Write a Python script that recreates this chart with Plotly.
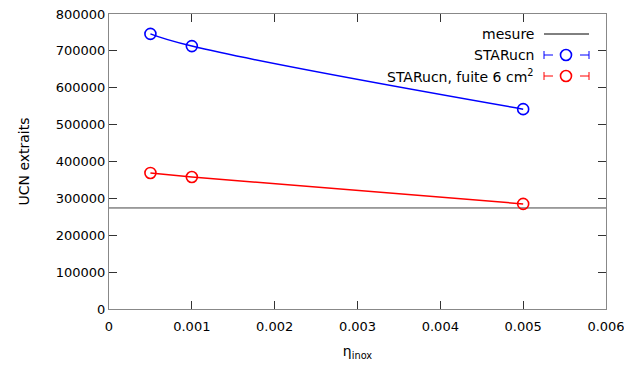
import plotly.graph_objects as go

eta = [0.0005, 0.001, 0.005]
starucn = [746000, 713000, 542000]
starucn_fuite = [369000, 358000, 285000]
mesure = 274000
x_range = [0, 0.006]
y_range = [0, 800000]
x_ticks = [0, 0.001, 0.002, 0.003, 0.004, 0.005, 0.006]
x_ticklabels = ["0", "0.001", "0.002", "0.003", "0.004", "0.005", "0.006"]

FONT = "DejaVu Sans, Verdana, sans-serif"
PL, PR, PT, PB = 109, 606, 14, 309          # plot box in window pixels
W, H = 624, 372
L, T = PL, PT
R, B = W - PR, H - PB

def px(x):
    return (x - PL) / (PR - PL)

def py(y):
    return (PB - y) / (PB - PT)

fig = go.Figure()
fig.add_trace(go.Scatter(x=x_range, y=[mesure, mesure], mode="lines",
                         line=dict(color="#444444", width=1), showlegend=False))
fig.add_trace(go.Scatter(x=eta, y=starucn, mode="lines+markers",
                         line=dict(color="#0000ff", width=1.5, shape="spline", smoothing=1.3),
                         marker=dict(symbol="circle-open", size=11, color="#0000ff",
                                     line=dict(width=1.6)),
                         showlegend=False))
fig.add_trace(go.Scatter(x=eta, y=starucn_fuite, mode="lines+markers",
                         line=dict(color="#ff0000", width=1.5),
                         marker=dict(symbol="circle-open", size=11, color="#ff0000",
                                     line=dict(width=1.6)),
                         showlegend=False))

axis_common = dict(showline=True, linecolor="#888888", linewidth=1, mirror="allticks",
                   ticks="inside", ticklen=8, tickcolor="#333333", showgrid=False,
                   zeroline=False, automargin=False, ticklabeloverflow="allow",
                   tickfont=dict(family=FONT, size=13, color="#000000"))
fig.update_xaxes(range=x_range, tickvals=x_ticks, ticktext=x_ticklabels, **axis_common,
                 ticklabelstandoff=5,
                 title=dict(text="η<sub>inox</sub>", font=dict(family=FONT, size=14, color="#000"),
                            standoff=13))
fig.update_yaxes(range=y_range, dtick=100000, tickformat="d", **axis_common,
                 title=dict(text="UCN extraits", font=dict(family=FONT, size=14, color="#000"),
                            standoff=22))

# Legend (gnuplot style: right-aligned text, sample to the right)
legend_items = [("mesure", "#000000", "line"),
                ("STARucn", "#0000ff", "marker"),
                ("STARucn, fuite 6 cm<sup>2</sup>", "#ff0000", "marker")]
rows = [34, 55, 76]
shapes = []
annotations = []
for (label, col, kind), yy in zip(legend_items, rows):
    annotations.append(dict(text=label, xref="paper", yref="paper", x=px(536), y=py(yy),
                            xanchor="right", yanchor="middle", showarrow=False,
                            font=dict(family=FONT, size=14, color="#000")))
    if kind == "line":
        shapes.append(dict(type="line", xref="paper", yref="paper", x0=px(544), x1=px(589),
                           y0=py(yy), y1=py(yy), line=dict(color=col, width=1)))
    else:
        shapes.append(dict(type="line", xref="paper", yref="paper", x0=px(544), x1=px(589),
                           y0=py(yy), y1=py(yy), line=dict(color=col, width=1, dash="dash")))
        for xe in (544, 589):
            shapes.append(dict(type="line", xref="paper", yref="paper", x0=px(xe), x1=px(xe),
                               y0=py(yy - 4), y1=py(yy + 4), line=dict(color=col, width=1)))
        shapes.append(dict(type="circle", xref="paper", yref="paper",
                           xsizemode="pixel", ysizemode="pixel",
                           xanchor=px(566), yanchor=py(yy), x0=-5.5, x1=5.5, y0=-5.5, y1=5.5,
                           line=dict(color=col, width=1.6), fillcolor="white"))

fig.update_layout(width=W, height=H, margin=dict(l=L, r=R, t=T, b=B, autoexpand=False),
                  plot_bgcolor="white", paper_bgcolor="white",
                  shapes=shapes, annotations=annotations,
                  font=dict(family=FONT))
fig.write_html("out.html", config={"displayModeBar": False},
               post_script="document.body.style.margin='0';document.body.style.overflow='hidden';")
